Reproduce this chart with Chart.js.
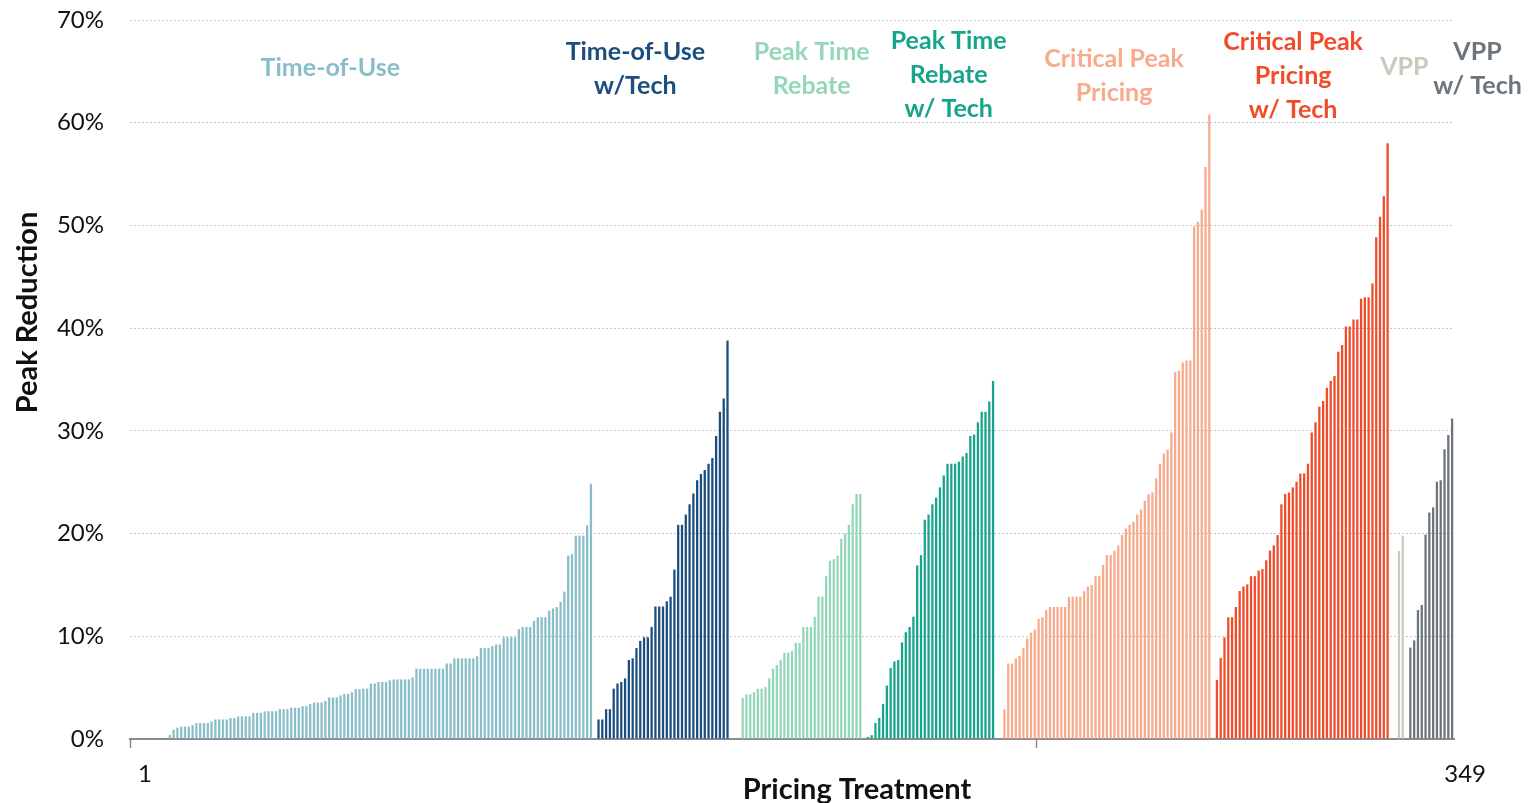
<!DOCTYPE html>
<html>
<head>
<meta charset="utf-8">
<script src="https://cdn.jsdelivr.net/npm/chart.js@4"></script>
<style>
  html, body { margin: 0; padding: 0; background: #fff; }
  canvas { display: block; }
</style>
</head>
<body>
<canvas id="peakChart" width="1530" height="803"></canvas>
<script>
// Peak reduction (%) per pricing treatment, sorted within each group
const touValues = [
    0, 0, 0, 0, 0, 0, 0, 0, 0, 0,
    0.4, 0.9, 1.1, 1.2, 1.2, 1.2, 1.35, 1.55, 1.55, 1.55, 1.55, 1.7, 1.9, 1.9, 1.9, 1.9,
    2.05, 2.05, 2.2, 2.2, 2.2, 2.2, 2.55, 2.55, 2.55, 2.7, 2.7, 2.7, 2.7, 2.9, 2.9, 2.9,
    3.05, 3.05, 3.05, 3.2, 3.2, 3.4, 3.55, 3.55, 3.55, 3.7, 4.05, 4.05, 4.05, 4.25, 4.4,
    4.4, 4.55, 4.85, 4.85,
    4.9, 4.9, 5.4, 5.4, 5.55, 5.55, 5.55, 5.7, 5.8, 5.8, 5.8, 5.8, 5.8, 6.0,
    6.85, 6.85, 6.85, 6.85, 6.85, 6.85, 6.85, 6.85, 7.35, 7.35,
    7.85, 7.85, 7.85, 7.85, 7.85, 7.85,
    8.05, 8.85, 8.85, 8.85, 9.05, 9.2, 9.2, 9.9, 9.9, 9.9, 9.9, 10.7, 10.9, 10.9, 10.9,
    11.5, 11.85, 11.85, 11.85, 12.5, 12.7, 12.85, 13.35, 14.35, 17.85, 18.0, 19.8, 19.8,
    19.8, 20.8, 24.85
];
const touTechValues = [
    1.9, 1.9, 2.9, 2.9, 4.9, 5.4, 5.55, 5.9, 7.7, 7.85, 8.85, 9.55, 9.9, 9.9, 10.9,
    12.9, 12.9, 12.9, 13.4, 13.85, 16.5, 20.85, 20.85, 21.85, 22.85, 23.9, 25.2, 25.8,
    26.2, 26.8, 27.35, 29.5, 31.85, 33.15, 38.8
];
const ptrValues = [
    4.0, 4.35, 4.35, 4.55, 4.9, 4.9, 5.05, 5.9, 6.85, 7.2, 7.7, 8.4, 8.4, 8.55, 9.35,
    9.35, 10.9, 10.9, 10.9, 11.9, 13.85, 13.85, 15.85, 17.35, 17.5, 17.85, 19.5, 20.0,
    20.85, 22.85, 23.85, 23.85
];
const ptrTechValues = [
    0.2, 0.37, 1.57, 2.05, 3.4, 5.2, 6.9, 7.55, 7.7, 9.4, 10.4, 10.9, 11.9, 16.9, 17.9,
    21.35, 21.85, 22.85, 23.5, 24.5, 25.65, 26.8, 26.8, 26.8, 27.0, 27.5, 27.85, 29.5,
    29.65, 30.85, 31.85, 31.85, 32.85, 34.85
];
const cppValues = [
    2.9, 7.35, 7.35, 7.85, 8.1, 8.85, 9.8, 10.35, 10.65, 11.7, 11.85, 12.55, 12.85,
    12.85, 12.85, 12.85, 12.85, 13.85, 13.85, 13.85, 13.85, 14.4, 14.85, 15.0, 15.85,
    15.85, 16.95, 17.9, 17.9, 18.35, 18.85, 19.85, 20.5, 20.85, 21.15, 21.85, 22.35,
    23.2, 23.85, 24.0, 25.35, 26.8, 27.8, 28.15, 29.85, 35.7, 35.85, 36.65, 36.85,
    36.85, 49.9, 50.35, 51.55, 55.7, 60.8
];
const cppTechValues = [
    5.75, 7.9, 9.9, 11.85, 11.85, 12.85, 14.4, 14.85, 15.05, 15.85, 15.85, 16.4, 16.55,
    17.4, 18.35, 18.85, 19.85, 22.85, 23.85, 24.0, 24.5, 25.05, 25.85, 25.85, 26.8,
    29.85, 30.85, 32.35, 32.9, 34.2, 34.85, 35.35, 37.7, 38.35, 40.15, 40.15, 40.85,
    40.85, 42.85, 43.0, 43.0, 44.35, 48.85, 50.85, 52.85, 58.0
];
const vppValues = [18.3, 19.8];
const vppTechValues = [8.9, 9.6, 12.55, 13.05, 19.9, 22.05, 22.55, 25.05, 25.2, 28.2, 29.6, 31.2];

// first treatment number (0-based) of each group
const groupStarts = [0, 123, 161, 194, 230, 286, 334, 337];
const groupNames = [
    ["Time-of-Use"],
    ["Time-of-Use", "w/Tech"],
    ["Peak Time", "Rebate"],
    ["Peak Time", "Rebate", "w/ Tech"],
    ["Critical Peak", "Pricing"],
    ["Critical Peak", "Pricing", "w/ Tech"],
    ["VPP"],
    ["VPP", "w/ Tech"],
];
const treatmentCount = 349;
const xTickLabels = ["1", "349"];
const yTickValues = [0, 10, 20, 30, 40, 50, 60, 70];
const xTitle = "Pricing Treatment";
const yTitle = "Peak Reduction";

const groupValues = [touValues, touTechValues, ptrValues, ptrTechValues,
    cppValues, cppTechValues, vppValues, vppTechValues];
const groupColors = ["#89bec9", "#1b4d7e", "#93d7b8", "#16a48b",
    "#f8aa8c", "#f04c29", "#c9cabe", "#6c757b"];

// where each group caption sits: [treatment position, value %]
const captionAnchors = [
    [52.3, 65.3], [132.7, 66.9], [179.2, 66.9], [215.3, 68.0],
    [258.9, 66.2], [306.1, 67.9], [335.4, 65.45], [354.7, 66.9],
];

const labels = Array.from({ length: treatmentCount }, (_, i) => String(i + 1));

const datasets = groupValues.map((values, g) => {
    const data = new Array(treatmentCount).fill(null);
    values.forEach((v, j) => { data[groupStarts[g] + j] = v; });
    return {
        label: groupNames[g].join(" "),
        data: data,
        backgroundColor: groupColors[g],
        borderWidth: 0,
        grouped: false,
        barPercentage: 0.6,
        categoryPercentage: 1.0,
    };
});

// group captions + axis titles (the titles sit off-centre in the original)
const textPlugin = {
    id: "chartTexts",
    afterDatasetsDraw(chart) {
        const { ctx, scales, chartArea } = chart;
        ctx.save();
        ctx.font = "bold 25px Lato";
        ctx.textAlign = "center";
        ctx.textBaseline = "middle";
        groupNames.forEach((lines, g) => {
            const x = scales.x.getPixelForValue(captionAnchors[g][0]);
            const y = scales.y.getPixelForValue(captionAnchors[g][1]);
            ctx.fillStyle = groupColors[g];
            lines.forEach((line, k) => ctx.fillText(line, x, y + k * 34));
        });

        ctx.fillStyle = "#111";
        ctx.font = "bold 29px Lato";
        ctx.textBaseline = "alphabetic";
        const midX = (chartArea.left + chartArea.right) / 2;
        ctx.fillText(xTitle, midX + 65, chartArea.bottom + 60);

        const midY = (chartArea.top + chartArea.bottom) / 2;
        ctx.translate(37, midY - 67);
        ctx.rotate(-Math.PI / 2);
        ctx.fillText(yTitle, 0, 0);
        ctx.restore();
    },
};

new Chart(document.getElementById("peakChart"), {
    type: "bar",
    data: { labels: labels, datasets: datasets },
    options: {
        responsive: false,
        animation: false,
        devicePixelRatio: 1,
        layout: { padding: { left: 0, right: 76, top: 20, bottom: 0 } },
        plugins: {
            legend: { display: false },
            tooltip: { enabled: false },
        },
        scales: {
            x: {
                offset: true,
                grid: {
                    offset: true,
                    drawOnChartArea: false,
                    tickLength: 9,
                    tickWidth: 1.5,
                    tickColor: (c) => (c.index === 0 || c.index === 239) ? "#8c8c8c" : "rgba(0,0,0,0)",
                },
                border: { color: "#8c8c8c", width: 2 },
                ticks: {
                    autoSkip: false,
                    maxRotation: 0,
                    labelOffset: 13,
                    padding: 12,
                    color: "#111",
                    font: { family: "Lato", size: 24 },
                    callback: (v, i) => i === 0 ? xTickLabels[0] : (i === treatmentCount - 1 ? xTickLabels[1] : ""),
                },
                afterFit: (s) => { s.height = 64; },
            },
            y: {
                min: 0,
                max: 70,
                afterBuildTicks: (s) => { s.ticks = yTickValues.map((v) => ({ value: v })); },
                grid: { color: "#c4c4c4", lineWidth: 1, drawTicks: false },
                border: { display: false, dash: [2, 2] },
                ticks: {
                    padding: 26,
                    color: "#111",
                    font: { family: "Lato", size: 24 },
                    callback: (v) => v + "%",
                },
                afterFit: (s) => {
                    s.width = 130;
                    s.paddingTop = 0;
                    s.paddingBottom = 0;
                },
            },
        },
    },
    plugins: [textPlugin],
});
</script>
</body>
</html>
